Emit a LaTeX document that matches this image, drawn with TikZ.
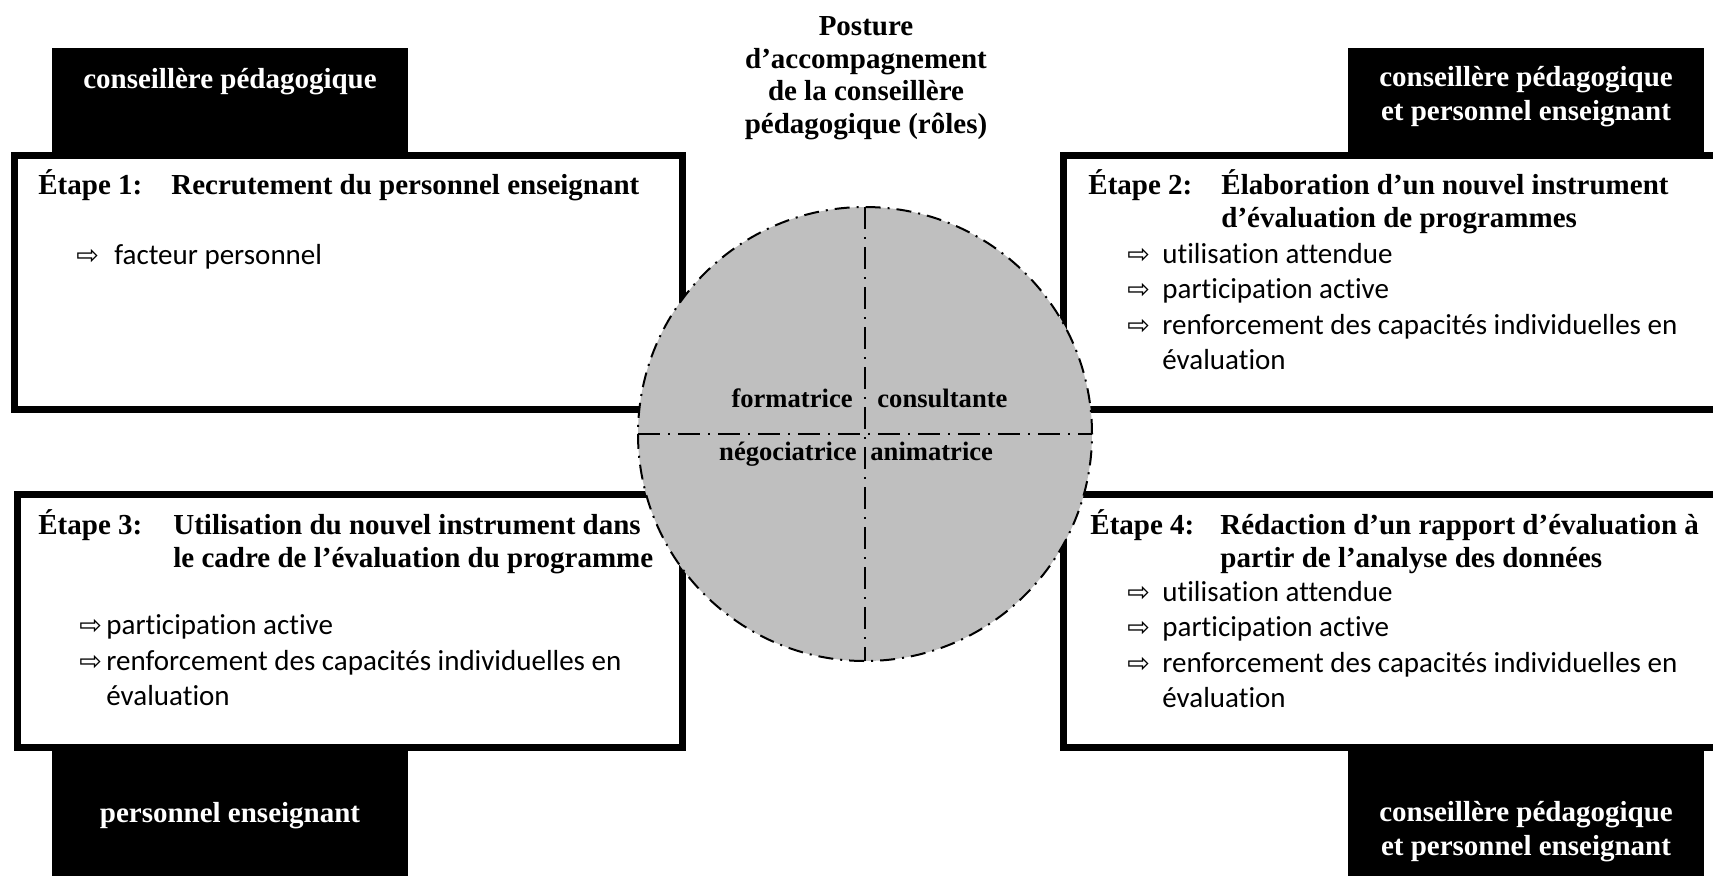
\documentclass[tikz,border=0pt]{standalone}
\usepackage{fontspec}
\setmainfont{Liberation Serif}
\newfontfamily\bodyfont[Ligatures={NoCommon}]{Carlito}
\newfontfamily\arrowfont{DejaVu Sans}
\usepackage{tikz}
\usetikzlibrary{positioning}
\definecolor{rolegray}{RGB}{191,191,191}
\tikzstyle{stepbox} = [rectangle, draw=black, line width=3.5pt, fill=white,
    minimum width=334pt, minimum height=127pt, inner sep=0pt, outer sep=0pt]
\tikzstyle{tab} = [rectangle, fill=black, minimum width=178pt, inner sep=0pt]
\tikzstyle{tablabel} = [text=white, align=center, inner sep=0pt,
    font=\fontsize{14.5}{17}\selectfont\bfseries]
\tikzstyle{head} = [anchor=west, inner sep=0pt, font=\fontsize{14.5}{16.5}\selectfont\bfseries]
\tikzstyle{items} = [anchor=west, inner sep=0pt, font=\fontsize{14.5}{17.75}\selectfont\bodyfont]
\tikzstyle{role} = [inner sep=0pt, font=\fontsize{13.3}{16}\selectfont\bfseries]
\tikzstyle{divider} = [line width=1pt, dash pattern=on 11pt off 4pt on 1pt off 4pt]
\newcommand{\arr}{{\arrowfont\fontsize{13.5}{13.5}\selectfont ⇨}}

\begin{document}
\begin{tikzpicture}[x=0.5pt, y=-0.5pt]
\useasboundingbox (0,0) rectangle (1713,875);
\clip (0,0) rectangle (1713,875);

% black tabs
\node (tabA) [tab, minimum height=56pt] at (230,104) {};
\node (tabB) [tab, minimum height=56pt] at (1526,104) {};
\node (tabC) [tab, minimum height=70pt] at (230,810) {};
\node (tabD) [tab, minimum height=70pt] at (1526,810) {};

% the four steps
\node (step1) [stepbox] at (348.5,282.5) {};
\node (step2) [stepbox] at (1397.5,282.5) {};
\node (step3) [stepbox, minimum width=332.75pt, minimum height=126.5pt] at (349.75,621) {};
\node (step4) [stepbox, minimum height=126.5pt] at (1397.5,621) {};

\node (labA) [tablabel] at (230,82) {conseillère pédagogique};
\node (labB) [tablabel] at (1526,96.5) {conseillère pédagogique\\et personnel enseignant};
\node (labC) [tablabel] at (230,816) {personnel enseignant};
\node (labD) [tablabel] at (1526,832) {conseillère pédagogique\\et personnel enseignant};

\node (head1) [head] at (38,187) {\begin{tabular}{@{}p{66.5pt}@{}l@{}}
    Étape 1: & Recrutement du personnel enseignant
\end{tabular}};
\node (head2) [head] at (1088,203.5) {\begin{tabular}{@{}p{66.5pt}@{}l@{}}
    Étape 2: & Élaboration d’un nouvel instrument \\
             & d’évaluation de programmes
\end{tabular}};
\node (head3) [head] at (38,543.5) {\begin{tabular}{@{}p{67.5pt}@{}l@{}}
    Étape 3: & Utilisation du nouvel instrument dans \\
             & le cadre de l’évaluation du programme
\end{tabular}};
\node (head4) [head] at (1090,543.5) {\begin{tabular}{@{}p{65pt}@{}l@{}}
    Étape 4: & Rédaction d’un rapport d’évaluation à \\
             & partir de l’analyse des données
\end{tabular}};

\node (list1) [items] at (76,257) {\begin{tabular}{@{}p{19pt}@{}l@{}}
    \arr & facteur personnel
\end{tabular}};
\node (list2) [items] at (1127,309.5) {\begin{tabular}{@{}p{17.5pt}@{}l@{}}
    \arr & utilisation attendue \\
    \arr & participation active \\
    \arr & renforcement des capacités individuelles en \\
         & évaluation
\end{tabular}};
\node (list3) [items] at (79,663) {\begin{tabular}{@{}p{13.5pt}@{}l@{}}
    \arr & participation active \\
    \arr & renforcement des capacités individuelles en \\
         & évaluation
\end{tabular}};
\node (list4) [items] at (1127,647.5) {\begin{tabular}{@{}p{17.5pt}@{}l@{}}
    \arr & utilisation attendue \\
    \arr & participation active \\
    \arr & renforcement des capacités individuelles en \\
         & évaluation
\end{tabular}};

% roles circle
\node (roles) [circle, draw, fill=rolegray, line width=1pt, minimum size=227pt,
    dash pattern=on 7.5pt off 3.5pt on 1pt off 3.5pt, inner sep=0pt, outer sep=0pt] at (865,434) {};
\draw [divider] (roles.north) -- (roles.south);
\draw [divider] (roles.west) -- (roles.east);

\node (form) [role, anchor=base east] at (853,407) {formatrice};
\node (cons) [role, anchor=base west] at (877,407) {consultante};
\node (nego) [role, anchor=base east] at (857,460) {négociatrice};
\node (anim) [role, anchor=base west] at (870,460) {animatrice};

\node (title) [align=center, inner sep=0pt, font=\fontsize{14.5}{16.25}\selectfont\bfseries]
    at (866,78) {Posture\\d’accompagnement\\de la conseillère\\pédagogique (rôles)};
\end{tikzpicture}
\end{document}
